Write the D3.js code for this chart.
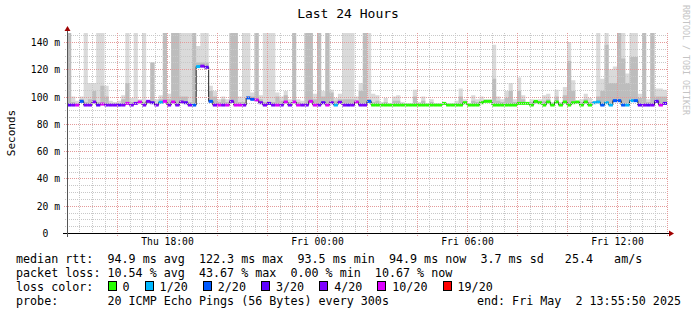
<!DOCTYPE html>
<html>
<head>
<meta charset="utf-8">
<script src="https://cdn.jsdelivr.net/npm/d3@7"></script>
<style>
  html, body { margin: 0; padding: 0; background: #fff; }
  svg text { font-family: "DejaVu Sans Mono", monospace; white-space: pre; }
</style>
</head>
<body>
<svg id="chart" width="697" height="315"></svg>
<script>
// 10 minute steps, starting Thu 14:00
const stepMinutes = 10;

// top of the smoke (max ping, ms)
const smokeHi = [
  150,100,97,100,150,110,110,150,150,108, 97,96,97,101,150,99,150,98,150,97,
  125,98,101,150,102,150,150,150,150,150, 150,137,150,150,108,104,98,100,98,150,
  150,100,150,150,103,150,101,150,150,150, 103,100,104,98,150,98,97,150,150,102,
  150,104,150,105,99,102,150,150,150,100, 110,150,150,102,101,96,99,95,100,101,
  96,95,95,105,96,100,95,98,95,95, 96,95,95,97,106,98,95,101,98,100,
  98,98,138,100,98,104,110,98,114,101, 96,98,96,98,101,102,96,105,96,107,
  140,112,96,98,102,99,97,150,113,150, 120,122,150,150,117,150,150,102,150,98,
  150,106,106,105
];

// denser part of the smoke (ms)
const smokeMid = [
  150,96,95,98,96,98,104,96,108,100, 95,95,95,98,110,96,96,96,96,95,
  125,95,98,150,98,150,150,100,100,96, 150,125,125,125,104,100,96,98,96,150,
  150,96,96,100,100,150,98,96,96,96, 100,97,101,96,150,96,95,150,150,98,
  150,100,150,103,97,98,98,98,98,97, 104,150,98,96,97,95,96,94,97,97,
  95,94,94,100,95,97,94,96,94,94, 95,94,94,95,100,96,94,97,96,97,
  97,97,113,97,96,99,104,96,104,98, 95,96,95,96,97,98,95,100,95,101,
  126,104,95,96,98,96,96,100,104,138, 110,110,150,128,110,129,129,99,150,96,
  150,100,100,100
];

// median rtt (ms)
const median = [
  93.8,93.8,93.8,96.5,93.8,93.8,96,93.8,94.5,93.8, 93.8,93.8,93.8,93.8,95,93.8,95,96,93.8,96.5,
  95.5,93.8,95.8,96.5,93.8,96,93.8,96,95.5,93.8, 93.8,122,122.3,121.5,96.5,93.8,93.8,93.8,93.8,96.5,
  93.8,93.8,93.8,99,98,97.5,95.5,93.8,95,93.8, 93.8,93.8,96,93.8,96,93.8,93.8,93.8,96.5,93.8,
  93.8,95.5,93.8,95.5,93.8,95.8,93.8,93.8,93.8,96, 93.8,93.8,96.5,93.8,93.8,93.8,93.8,93.8,93.8,93.8,
  93.8,93.8,93.8,93.8,93.8,93.8,93.8,93.8,93.8,93.8, 95,93.8,93.8,93.8,93.8,95.5,93.8,93.8,93.8,95.5,
  96.5,96.5,93.8,93.8,93.8,93.8,93.8,93.8,95,95, 95,93.8,96.5,95.5,93.8,96,93.8,96,93.8,96,
  93.8,95.5,96,93.8,96,93.8,95.5,96,93.8,95.5, 93.8,97,97,93.8,93.8,97,97,93.8,93.8,93.8,
  93.8,96.5,93.8,95
];

// lost pings out of 20
const lossCount = [
  3,4,10,2,4,4,4,3,10,4, 4,4,3,4,10,4,4,10,4,4,
  3,4,1,10,4,10,4,4,3,4, 2,1,4,3,2,4,10,4,10,4,
  10,10,4,2,2,10,4,4,3,4, 10,4,10,4,10,10,4,4,10,10,
  4,3,10,4,1,4,4,3,4,10, 4,4,2,0,0,0,0,0,0,0,
  0,0,0,0,0,0,0,0,0,0, 0,0,0,0,0,0,0,0,0,0,
  0,0,0,0,0,0,0,0,0,0, 0,0,0,0,0,0,0,0,0,0,
  0,0,0,0,0,0,1,1,2,1, 1,2,2,2,1,1,2,3,4,3,
  4,3,10,3
];

const lossLevels = [1, 2, 3, 4, 10, 19];
const lossNames = ["0", "1/20", "2/20", "3/20", "4/20", "10/20", "19/20"];
const lossColors = ["#26ff00", "#00b8ff", "#0059ff", "#5e00ff", "#7e00ff", "#dd00ff", "#ff0000"];

const yTicks = [0, 20, 40, 60, 80, 100, 120, 140];
const yLabels = ["0  ", "20 m", "40 m", "60 m", "80 m", "100 m", "120 m", "140 m"];

const title = "Last 24 Hours";
const yTitle = "Seconds";
const statRows = [
  "median rtt:  94.9 ms avg  122.3 ms max  93.5 ms min  94.9 ms now  3.7 ms sd   25.4   am/s",
  "packet loss: 10.54 % avg  43.67 % max  0.00 % min  10.67 % now"
];
const lossTitle = "loss color:";
const probeText = "probe:       20 ICMP Echo Pings (56 Bytes) every 300s";
const endText = "end: Fri May  2 13:55:50 2025";
const watermark = "RRDTOOL / TOBI OETIKER";

const svg = d3.select("#chart");
const plot = { left: 67, right: 667, top: 33, bottom: 233 };

const t0 = new Date(2025, 4, 1, 14, 0, 0);
const t1 = new Date(2025, 4, 2, 14, 0, 0);

const x = d3.scaleTime().domain([t0, t1]).range([plot.left, plot.right]);
const y = d3.scaleLinear().domain([0, 146.6]).range([plot.bottom, plot.top]);
const lossColor = d3.scaleThreshold().domain(lossLevels).range(lossColors);

const steps = median.map((m, i) => ({
  t: d3.timeMinute.offset(t0, i * stepMinutes),
  t2: d3.timeMinute.offset(t0, (i + 1) * stepMinutes),
  hi: smokeHi[i],
  mid: smokeMid[i],
  med: m,
  loss: lossCount[i]
}));
// closing point for step curves
const stepsEnd = steps.concat([{ ...steps[steps.length - 1], t: t1 }]);

svg.append("rect").attr("width", 697).attr("height", 315).attr("fill", "#fff");

svg.append("clipPath").attr("id", "plotclip")
  .append("rect")
  .attr("x", plot.left).attr("y", plot.top)
  .attr("width", plot.right - plot.left).attr("height", plot.bottom - plot.top);

const g = svg.append("g").attr("clip-path", "url(#plotclip)");

// smoke
const smokeArea = (key) => d3.area()
  .curve(d3.curveStepAfter)
  .x((d) => x(d.t))
  .y0((d) => y(d.med))
  .y1((d) => y(d[key]));

g.append("path").datum(stepsEnd).attr("d", smokeArea("hi")).attr("fill", "#dadada");
g.append("path").datum(stepsEnd).attr("d", smokeArea("mid")).attr("fill", "#bdbdbd");

// grid
const gridG = svg.append("g");
const minorX = d3.timeMinute.every(30).range(t0, d3.timeMinute.offset(t1, 1))
  .filter((d) => d.getMinutes() !== 0 || d.getHours() % 2 !== 0);
const majorX = d3.timeHour.every(2).range(t0, d3.timeMinute.offset(t1, 1));
const minorY = d3.range(5, 146, 5).filter((v) => v % 20 !== 0);
const majorY = yTicks.filter((v) => v > 0);

gridG.selectAll(".mx").data(minorX).join("line")
  .attr("x1", (d) => Math.round(x(d)) + 0.5).attr("x2", (d) => Math.round(x(d)) + 0.5)
  .attr("y1", plot.top).attr("y2", plot.bottom + 2)
  .attr("stroke", "#c8c8c8").attr("stroke-dasharray", "1,1");
gridG.selectAll(".my").data(minorY).join("line")
  .attr("x1", plot.left - 2).attr("x2", plot.right)
  .attr("y1", (d) => Math.round(y(d)) + 0.5).attr("y2", (d) => Math.round(y(d)) + 0.5)
  .attr("stroke", "#c8c8c8").attr("stroke-dasharray", "1,1");
gridG.selectAll(".Mx").data(majorX).join("line")
  .attr("x1", (d) => Math.round(x(d)) + 0.5).attr("x2", (d) => Math.round(x(d)) + 0.5)
  .attr("y1", plot.top).attr("y2", plot.bottom + 3)
  .attr("stroke", "#e49a9a").attr("stroke-dasharray", "1,1");
gridG.selectAll(".My").data(majorY).join("line")
  .attr("x1", plot.left - 3).attr("x2", plot.right)
  .attr("y1", (d) => Math.round(y(d)) + 0.5).attr("y2", (d) => Math.round(y(d)) + 0.5)
  .attr("stroke", "#e49a9a").attr("stroke-dasharray", "1,1");

// median: thin dark line, then loss coloured bands
g.append("path").datum(stepsEnd)
  .attr("d", d3.line().curve(d3.curveStepAfter).x((d) => x(d.t)).y((d) => y(d.med)))
  .attr("fill", "none").attr("stroke", "#202020").attr("stroke-width", 1);

g.selectAll(".med").data(steps).join("rect")
  .attr("x", (d) => x(d.t))
  .attr("width", (d) => x(d.t2) - x(d.t))
  .attr("y", (d) => y(d.med) - 1.5)
  .attr("height", 3)
  .attr("fill", (d) => lossColor(d.loss));

// axes lines and arrows
svg.append("line").attr("x1", plot.left - 4).attr("x2", plot.right + 2)
  .attr("y1", plot.bottom + 0.5).attr("y2", plot.bottom + 0.5).attr("stroke", "#000");
svg.append("line").attr("x1", plot.left + 0.5).attr("x2", plot.left + 0.5)
  .attr("y1", plot.bottom + 4).attr("y2", plot.top - 2).attr("stroke", "#555");
svg.append("path")
  .attr("d", `M${plot.right + 2},${plot.bottom - 2.5}L${plot.right + 7},${plot.bottom + 0.5}L${plot.right + 2},${plot.bottom + 3.5}Z`)
  .attr("fill", "#a00000");
svg.append("path")
  .attr("d", `M${plot.left - 2.5},${plot.top - 2}L${plot.left + 0.5},${plot.top - 7}L${plot.left + 3.5},${plot.top - 2}Z`)
  .attr("fill", "#a00000");

// y axis labels
const yAxis = svg.append("g")
  .attr("transform", `translate(${plot.left},0)`)
  .call(d3.axisLeft(y).tickValues(yTicks).tickFormat((d, i) => yLabels[i]).tickSize(0).tickPadding(7));
yAxis.select(".domain").remove();
yAxis.selectAll("text")
  .style("font-family", "'DejaVu Sans Mono', monospace")
  .style("font-size", "9.7px").attr("fill", "#000").attr("dy", "0.36em");

// x axis labels
const xAxis = svg.append("g")
  .attr("transform", `translate(0,${plot.bottom})`)
  .call(d3.axisBottom(x).ticks(d3.timeHour.every(6)).tickFormat(d3.timeFormat("%a %H:%M")).tickSize(0).tickPadding(5));
xAxis.select(".domain").remove();
xAxis.selectAll("text")
  .style("font-family", "'DejaVu Sans Mono', monospace")
  .style("font-size", "9.7px").attr("fill", "#000");

// titles
svg.append("text").attr("x", 348).attr("y", 18).attr("text-anchor", "middle")
  .style("font-size", "13px").text(title);
svg.append("text").attr("transform", "translate(15,133) rotate(-90)").attr("text-anchor", "middle")
  .style("font-size", "11px").text(yTitle);
svg.append("text").attr("transform", "translate(683,5) rotate(90)")
  .style("font-size", "8.3px").attr("fill", "#c4c4c4").text(watermark);

// legend
const legendFont = 11.7;
const cw = legendFont * 0.602;
const rowY = [263, 277, 291, 305];
const leg = svg.append("g").style("font-size", legendFont + "px");

leg.selectAll(".stat").data(statRows).join("text")
  .attr("x", 16).attr("y", (d, i) => rowY[i]).text((d) => d);

leg.append("text").attr("x", 16).attr("y", rowY[2]).text(lossTitle);
let pos = 16 + 13 * cw;
lossNames.forEach((name, i) => {
  leg.append("rect").attr("x", Math.round(pos) + 0.5).attr("y", rowY[2] - 9.5)
    .attr("width", 8).attr("height", 9)
    .attr("fill", lossColors[i]).attr("stroke", "#000");
  leg.append("text").attr("x", pos + 15).attr("y", rowY[2]).text(name);
  pos = pos + 15 + name.length * cw + 15;
});

leg.append("text").attr("x", 16).attr("y", rowY[3]).text(probeText);
leg.append("text").attr("x", 681).attr("y", rowY[3]).attr("text-anchor", "end").text(endText);
</script>
</body>
</html>
